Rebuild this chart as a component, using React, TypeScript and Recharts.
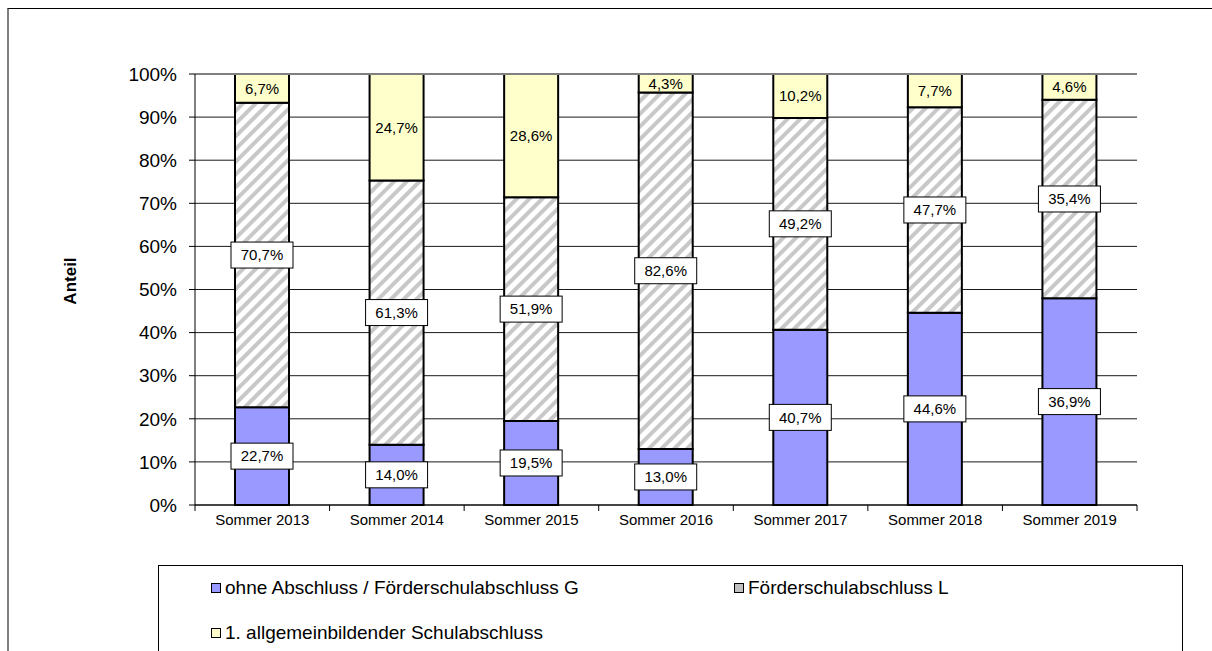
import {
  Bar,
  BarChart,
  CartesianGrid,
  LabelList,
  Legend,
  ReferenceLine,
  XAxis,
  YAxis,
} from "recharts";

const CATEGORIES = [
  "Sommer 2013",
  "Sommer 2014",
  "Sommer 2015",
  "Sommer 2016",
  "Sommer 2017",
  "Sommer 2018",
  "Sommer 2019",
];
// ohne Abschluss / Förderschulabschluss G
const OHNE_G = [22.7, 14.0, 19.5, 13.0, 40.7, 44.6, 36.9];
// Förderschulabschluss L
const FOERDER_L = [70.7, 61.3, 51.9, 82.6, 49.2, 47.7, 35.4];
// 1. allgemeinbildender Schulabschluss
const ALLG = [6.7, 24.7, 28.6, 4.3, 10.2, 7.7, 4.6];
const Y_TICKS = [0, 0.1, 0.2, 0.3, 0.4, 0.5, 0.6, 0.7, 0.8, 0.9, 1];

const FONT = "'Liberation Sans', Arial, sans-serif";
const W = 1212;
const H = 651;
const PLOT_LEFT = 195;
const PLOT_RIGHT = 1137;
const HALF_BAND = (PLOT_RIGHT - PLOT_LEFT) / CATEGORIES.length / 2;

const BLUE = "#9999FF";
const YELLOW = "#FFFFCC";

const data = CATEGORIES.map((name, i) => ({
  name,
  g: OHNE_G[i],
  l: FOERDER_L[i],
  a: ALLG[i],
}));

const LEGEND_ITEMS = [
  { name: "ohne Abschluss / Förderschulabschluss G", fill: BLUE, left: 52, top: 22 },
  { name: "Förderschulabschluss L", fill: "#c0c0c0", left: 575, top: 22 },
  { name: "1. allgemeinbildender Schulabschluss", fill: YELLOW, left: 52, top: 67 },
];

function fmt(v: number) {
  return v.toFixed(1).replace(".", ",") + "%";
}

function makeLabel(values: number[], boxed: boolean) {
  return (props: any) => {
    const { x, y, width, height, index } = props;
    const cx = Number(x) + Number(width) / 2;
    const cy = Number(y) + Number(height) / 2;
    return (
      <g>
        {boxed && (
          <rect
            x={cx - 31}
            y={cy - 13}
            width={62}
            height={26}
            fill="#fff"
            stroke="#000"
            strokeWidth={1}
          />
        )}
        <text
          x={cx}
          y={cy}
          dy="0.355em"
          textAnchor="middle"
          fontSize={15}
          fontFamily={FONT}
          fill="#000"
        >
          {fmt(values[index])}
        </text>
      </g>
    );
  };
}

function XTick(props: any) {
  const { x, y, payload, index } = props;
  return (
    <g>
      <line x1={x - HALF_BAND} x2={x - HALF_BAND} y1={y} y2={y + 6} stroke="#000" />
      {index === CATEGORIES.length - 1 && (
        <line x1={x + HALF_BAND} x2={x + HALF_BAND} y1={y} y2={y + 6} stroke="#000" />
      )}
      <text x={x} y={y + 20} textAnchor="middle" fontSize={15} fontFamily={FONT} fill="#000">
        {payload.value}
      </text>
    </g>
  );
}

function LegendBox() {
  return (
    <div
      style={{
        position: "relative",
        width: 1025,
        height: 120,
        border: "1px solid #000",
        boxSizing: "border-box",
        background: "#fff",
        fontFamily: FONT,
        fontSize: 19,
        color: "#000",
      }}
    >
      {LEGEND_ITEMS.map((item) => (
        <div
          key={item.name}
          style={{
            position: "absolute",
            left: item.left,
            top: item.top - 11,
            height: 22,
            display: "flex",
            alignItems: "center",
            whiteSpace: "nowrap",
          }}
        >
          <span
            style={{
              display: "inline-block",
              width: 8,
              height: 8,
              border: "1.5px solid #000",
              background: item.fill,
              marginRight: 4,
            }}
          />
          {item.name}
        </div>
      ))}
    </div>
  );
}

export default function App() {
  return (
    <div
      style={{
        position: "absolute",
        left: 0,
        top: 0,
        width: W,
        height: H,
        overflow: "hidden",
        background: "#fff",
      }}
    >
      <div
        style={{
          position: "absolute",
          left: 7,
          top: 8,
          width: 1300,
          height: 800,
          borderLeft: "2px solid #808080",
          borderTop: "1px solid #000",
        }}
      />
      <div style={{ position: "absolute", left: 0, top: 0 }}>
        <BarChart
          width={W}
          height={H}
          data={data}
          stackOffset="expand"
          barSize={54}
          margin={{ top: 74, right: 75, bottom: 116, left: 35 }}
        >
          <defs>
            <pattern
              id="hatch"
              patternUnits="userSpaceOnUse"
              width={9}
              height={9}
              patternTransform="rotate(45)"
            >
              <rect x={0} y={0} width={9} height={9} fill="#fff" />
              <rect x={0} y={0} width={4} height={9} fill="#c8c8c8" />
            </pattern>
          </defs>
          <CartesianGrid vertical={false} stroke="#000" strokeOpacity={0.9} />
          <XAxis
            dataKey="name"
            height={30}
            interval={0}
            tickSize={0}
            tickMargin={0}
            tickLine={false}
            axisLine={{ stroke: "#000" }}
            tick={<XTick />}
          />
          <YAxis
            width={160}
            type="number"
            domain={[0, 1]}
            ticks={Y_TICKS}
            tickFormatter={(v: number) => `${Math.round(v * 100)}%`}
            tickSize={6}
            tickMargin={12}
            tickLine={{ stroke: "#000" }}
            axisLine={{ stroke: "#000" }}
            tick={{ fontSize: 19, fill: "#000", fontFamily: FONT }}
            label={{
              content: () => (
                <text
                  x={70}
                  y={281}
                  transform="rotate(-90 70 281)"
                  textAnchor="middle"
                  dy="0.355em"
                  fontSize={17}
                  fontWeight="bold"
                  fontFamily={FONT}
                  fill="#000"
                >
                  Anteil
                </text>
              ),
            }}
          />
          <YAxis
            yAxisId="right"
            orientation="right"
            width={0}
            tick={false}
            tickLine={false}
            axisLine={{ stroke: "#808080", strokeWidth: 2 }}
          />
          <ReferenceLine y={1} stroke="#808080" strokeWidth={2} />
          <Legend
            layout="horizontal"
            verticalAlign="middle"
            align="center"
            wrapperStyle={{ left: 158, top: 565, width: 1025, height: 120 }}
            content={() => <LegendBox />}
          />
          <Bar dataKey="g" stackId="s" fill={BLUE} stroke="#000" strokeWidth={2} isAnimationActive={false}>
            <LabelList dataKey="g" content={makeLabel(OHNE_G, true)} />
          </Bar>
          <Bar dataKey="l" stackId="s" fill="url(#hatch)" stroke="#000" strokeWidth={2} isAnimationActive={false}>
            <LabelList dataKey="l" content={makeLabel(FOERDER_L, true)} />
          </Bar>
          <Bar dataKey="a" stackId="s" fill={YELLOW} stroke="#000" strokeWidth={2} isAnimationActive={false}>
            <LabelList dataKey="a" content={makeLabel(ALLG, false)} />
          </Bar>
        </BarChart>
      </div>
    </div>
  );
}
